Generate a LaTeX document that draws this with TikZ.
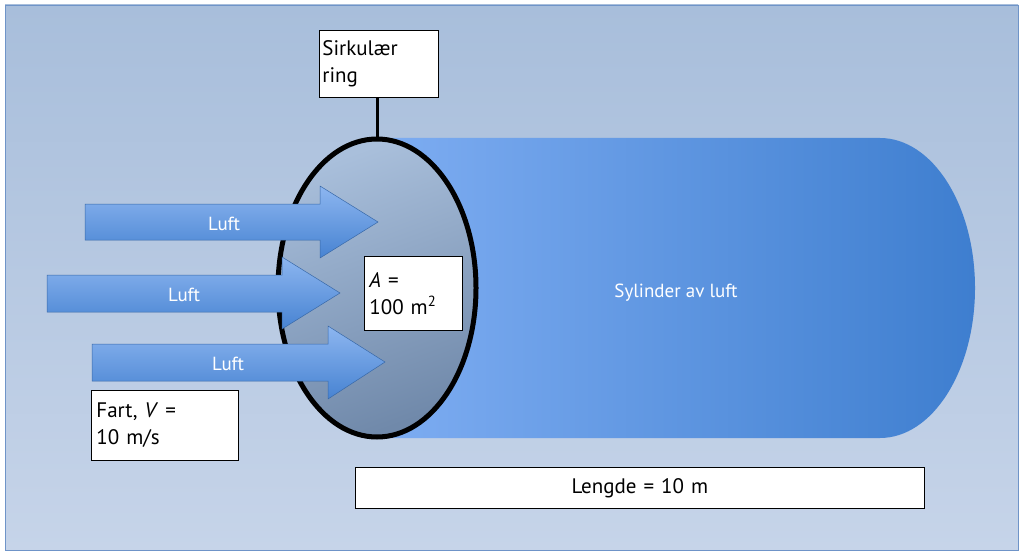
\documentclass[tikz,border=0pt]{standalone}
\usepackage{fontspec}
\setmainfont{PT Sans}
\usetikzlibrary{shapes.geometric}
\definecolor{bgtop}{HTML}{A8BEDB}
\definecolor{bgbot}{HTML}{C6D4E9}
\definecolor{cylL}{HTML}{7EADF2}
\definecolor{cylR}{HTML}{3E7ECF}
\definecolor{elA}{HTML}{A9BFDB}
\definecolor{elB}{HTML}{7089AA}
\definecolor{arT}{HTML}{8DB6F0}
\definecolor{arB}{HTML}{4783D2}
\definecolor{frame}{HTML}{6F94C8}
\tikzset{
  lbl/.style={draw=black, fill=white, line width=0.8pt, align=left, font=\fontsize{21}{27}\selectfont, inner sep=0pt, anchor=north west},
  arr/.style={top color=arT, bottom color=arB, draw=arB!80!black, line width=0.5pt},
  wtxt/.style={text=white, font=\fontsize{19}{23}\selectfont}
}
\begin{document}
\begin{tikzpicture}[x=1pt,y=-1pt]
\useasboundingbox (0,0) rectangle (1024,556);
\fill[white] (0,0) rectangle (1024,556);
\shade[top color=bgtop, bottom color=bgbot, draw=frame, line width=0.8pt] (5,5) rectangle (1018,550);
% cylinder
\shade[left color=cylL, right color=cylR] (378,138) -- (880,138) arc[start angle=-90,end angle=90,x radius=95,y radius=150] -- (378,438) -- cycle;
\node[wtxt] (cyl) at (676,293) {Sylinder av luft};
% ring
\shade[top color=elA, bottom color=elB, shading angle=20, draw=black, line width=5pt] (377,288) ellipse [x radius=99, y radius=149];
\coordinate (ringtop) at (377,138);
% arrows
\shade[arr] (85,204) -- (320,204) -- (320,186) -- (378,222) -- (320,258) -- (320,240) -- (85,240) -- cycle;
\node[wtxt] (a1) at (224,224) {Luft};
\shade[arr] (47,275) -- (282,275) -- (282,257) -- (340,293) -- (282,329) -- (282,312) -- (47,312) -- cycle;
\node[wtxt] (a2) at (184,295) {Luft};
\shade[arr] (92,344) -- (328,344) -- (328,326) -- (385,362) -- (328,399) -- (328,381) -- (92,381) -- cycle;
\node[wtxt] (a3) at (228,364) {Luft};
% boxes
\node[lbl, minimum width=119pt, minimum height=67pt, text width=113pt] (ring) at (319,30) {Sirkulær\\ring};
\draw[line width=3pt] (ringtop) -- (ring.south -| ringtop);
\node[lbl, minimum width=98pt, minimum height=74pt, text width=88pt] (area) at (364,256) {\textit{A} =\\100 m\textsuperscript{2}};
\node[lbl, minimum width=147pt, minimum height=70pt, text width=137pt] (fart) at (91,390) {Fart, \textit{V} =\\10 m/s};
\node[lbl, minimum width=569pt, minimum height=41pt, align=center, text width=560pt] (len) at (355,467) {Lengde = 10 m};
\end{tikzpicture}
\end{document}
